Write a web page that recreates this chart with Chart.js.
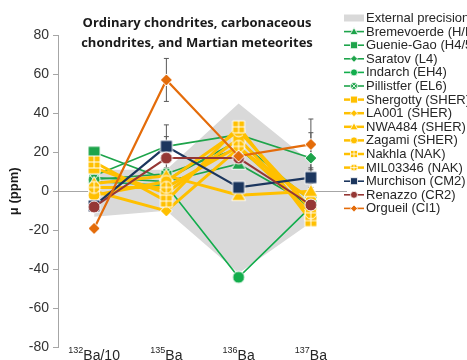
<!DOCTYPE html>
<html>
<head>
<meta charset="utf-8">
<script src="https://cdn.jsdelivr.net/npm/chart.js@4.4.1/dist/chart.umd.min.js"></script>
<style>
  html, body { margin: 0; padding: 0; background: #fff; overflow: hidden; }
  #wrap { width: 467px; height: 360px; }
</style>
</head>
<body>
<div id="wrap"><canvas id="chart" width="467" height="360"></canvas></div>
<script>
// Categories (isotope ratios) and how their labels are split for the superscript
const categories = ['132Ba/10', '135Ba', '136Ba', '137Ba'];
const massNumbers = ['132', '135', '136', '137'];
const labelSuffixes = ['Ba/10', 'Ba', 'Ba', 'Ba'];

// Grey band: external precision
const precisionUpper = [11, 11, 45, 15];
const precisionLower = [-13, -10, -42, -16];

// Ordinary and enstatite chondrites
const bremevoerde = [7, 5, 14, -7];
const guenieGao = [20, 6, 26, -5];
const saratov = [8, 23, 29, 17];
const indarch = [5, 3, -44, -8];
const pillistfer = [6, 9, 22, -9];
// Martian meteorites
const shergotty = [12, -1, 27, -12];
const la001 = [0, -10, 22, -4];
const nwa484 = [4, 8, -2, 0];
const zagami = [-2, 5, 31, -9];
const nakhla = [15, -5, 33, -15];
const mil03346 = [2, 2, 23, -11];
// Carbonaceous chondrites
const murchison = [-7.5, 23, 2, 7];
const renazzo = [-8, 17, 17, -7];
const orgueil = [-19, 57, 18, 24];

// Error bars (+/-) that show in the figure
const orgueilError = [null, 11, null, 13];
const murchisonError = [null, 11, null, 5];
const renazzoError = [null, 11, null, null];
const saratovError = [null, null, null, 13];

const GREEN = '#1ea44b';
const YELLOW = '#ffc000';

// label, values, colour, marker, line width
const series = [
  ['Bremevoerde (H/L3.9)', bremevoerde, GREEN, 'triangle', 1.6],
  ['Guenie-Gao (H4/5)', guenieGao, GREEN, 'rect', 1.6],
  ['Saratov (L4)', saratov, GREEN, 'rectRot', 1.6],
  ['Indarch (EH4)', indarch, '#12ad4c', 'circle', 1.6],
  ['Pillistfer (EL6)', pillistfer, GREEN, 'circleX', 1.6],
  ['Shergotty (SHER)', shergotty, YELLOW, 'rect', 3],
  ['LA001 (SHER)', la001, YELLOW, 'rectRot', 3],
  ['NWA484 (SHER)', nwa484, YELLOW, 'triangle', 3],
  ['Zagami (SHER)', zagami, YELLOW, 'circle', 3],
  ['Nakhla (NAK)', nakhla, YELLOW, 'rectPlus', 3],
  ['MIL03346 (NAK)', mil03346, YELLOW, 'circlePlus', 3],
  ['Murchison (CM2)', murchison, '#1c365e', 'rect', 2.2],
  ['Renazzo (CR2)', renazzo, '#953735', 'circle', 2],
  ['Orgueil (CI1)', orgueil, '#e46c0a', 'rectRot', 2.2],
];

const errorBars = [
  [saratov, saratovError],
  [murchison, murchisonError],
  [renazzo, renazzoError],
  [orgueil, orgueilError],
];

// Draw one marker shape, used for chart points and legend
function drawMarker(ctx, style, x, y, r, color, lw) {
  ctx.save();
  ctx.fillStyle = color;
  ctx.strokeStyle = '#ffffff';
  ctx.lineWidth = lw;
  ctx.beginPath();
  if (style === 'circle' || style === 'circleX' || style === 'circlePlus') {
    ctx.arc(x, y, r, 0, Math.PI * 2);
  } else if (style === 'rect' || style === 'rectPlus') {
    ctx.rect(x - r, y - r, 2 * r, 2 * r);
  } else if (style === 'rectRot') {
    ctx.moveTo(x, y - r);
    ctx.lineTo(x + r, y);
    ctx.lineTo(x, y + r);
    ctx.lineTo(x - r, y);
    ctx.closePath();
  } else if (style === 'triangle') {
    ctx.moveTo(x, y - r);
    ctx.lineTo(x + r, y + r * 0.75);
    ctx.lineTo(x - r, y + r * 0.75);
    ctx.closePath();
  }
  ctx.fill();
  ctx.stroke();
  // inner crosses
  if (style === 'rectPlus' || style === 'circlePlus') {
    ctx.beginPath();
    ctx.moveTo(x - r, y); ctx.lineTo(x + r, y);
    ctx.moveTo(x, y - r); ctx.lineTo(x, y + r);
    ctx.stroke();
  } else if (style === 'circleX') {
    const d = r * 0.7;
    ctx.beginPath();
    ctx.moveTo(x - d, y - d); ctx.lineTo(x + d, y + d);
    ctx.moveTo(x + d, y - d); ctx.lineTo(x - d, y + d);
    ctx.stroke();
  }
  ctx.restore();
}

function makeMarker(style, color) {
  const r = style === 'triangle' ? 7 : 6;
  const c = document.createElement('canvas');
  const s = 2 * r + 4;
  c.width = s;
  c.height = s;
  drawMarker(c.getContext('2d'), style, s / 2, s / 2, r, color, 1);
  return c;
}

const datasets = [
  {
    label: 'External precision',
    data: precisionUpper,
    fill: '+1',
    backgroundColor: '#d9d9d9',
    borderWidth: 0,
    pointRadius: 0,
    order: 100,
  },
  {
    label: '',
    data: precisionLower,
    fill: false,
    borderWidth: 0,
    pointRadius: 0,
    order: 101,
  },
];

series.forEach((s, i) => {
  datasets.push({
    label: s[0],
    data: s[1],
    borderColor: s[2],
    backgroundColor: s[2],
    borderWidth: s[4],
    pointStyle: makeMarker(s[3], s[2]),
    pointRadius: 6,
    tension: 0,
    fill: false,
    order: series.length - i,
  });
});

// Error bars go right above the grey band, under the series
const errorBarPlugin = {
  id: 'errorBars',
  afterDatasetDraw(chart, args) {
    if (args.index !== 0) return;
    const ctx = chart.ctx;
    const x = chart.scales.x;
    const y = chart.scales.y;
    ctx.save();
    ctx.strokeStyle = '#595959';
    ctx.lineWidth = 1;
    errorBars.forEach(([vals, errs]) => {
      errs.forEach((e, i) => {
        if (e == null) return;
        const px = x.getPixelForValue(i);
        const top = y.getPixelForValue(vals[i] + e);
        const bot = y.getPixelForValue(vals[i] - e);
        ctx.beginPath();
        ctx.moveTo(px, top); ctx.lineTo(px, bot);
        ctx.moveTo(px - 2.5, top); ctx.lineTo(px + 2.5, top);
        ctx.moveTo(px - 2.5, bot); ctx.lineTo(px + 2.5, bot);
        ctx.stroke();
      });
    });
    ctx.restore();
  },
};

// Title, category labels and legend drawn on top
const decorPlugin = {
  id: 'decor',
  afterDraw(chart) {
    const ctx = chart.ctx;
    const x = chart.scales.x;
    ctx.save();

    // title
    ctx.fillStyle = '#1a1a1a';
    ctx.font = 'bold 13px "Open Sans"';
    ctx.textAlign = 'center';
    ctx.textBaseline = 'middle';
    ctx.fillText('Ordinary chondrites, carbonaceous', 197, 23);
    ctx.fillText('chondrites, and Martian meteorites', 197, 43);

    // category labels with superscript mass numbers
    ctx.textAlign = 'left';
    ctx.textBaseline = 'alphabetic';
    ctx.fillStyle = '#262626';
    categories.forEach((c, i) => {
      ctx.font = '9px Arial';
      const wSup = ctx.measureText(massNumbers[i]).width;
      ctx.font = '14px Arial';
      const wMain = ctx.measureText(labelSuffixes[i]).width;
      const left = x.getPixelForValue(i) - (wSup + wMain) / 2;
      ctx.font = '9px Arial';
      ctx.fillText(massNumbers[i], left, 353);
      ctx.font = '14px Arial';
      ctx.fillText(labelSuffixes[i], left + wSup, 360);
    });

    // legend
    const lx = 344, tx = 366, ly = 18, step = 13.6;
    ctx.font = '13px Arial';
    ctx.textBaseline = 'middle';
    ctx.fillStyle = '#d9d9d9';
    ctx.fillRect(lx, ly - 3.5, 20, 7);
    ctx.fillStyle = '#262626';
    ctx.fillText('External precision', tx, ly + 0.5);
    series.forEach((s, i) => {
      const yy = ly + step * (i + 1);
      ctx.strokeStyle = s[2];
      ctx.lineWidth = s[4] > 2.5 ? 2.5 : 1.6;
      ctx.beginPath();
      ctx.moveTo(lx, yy); ctx.lineTo(lx + 20, yy);
      ctx.stroke();
      drawMarker(ctx, s[3], lx + 10, yy, s[3] === 'triangle' ? 4 : 3.5, s[2], 0.8);
      ctx.fillStyle = '#262626';
      ctx.fillText(s[0], tx, yy + 0.5);
    });
    ctx.restore();
  },
};

new Chart(document.getElementById('chart'), {
  type: 'line',
  data: { labels: categories, datasets: datasets },
  options: {
    responsive: false,
    animation: false,
    devicePixelRatio: 1,
    layout: { padding: { top: 35, right: 120, bottom: 5, left: 0 } },
    plugins: {
      legend: { display: false },
      tooltip: { enabled: false },
      title: { display: false },
    },
    scales: {
      x: { type: 'category', offset: true, display: false },
      y: {
        min: -80,
        max: 80,
        ticks: { stepSize: 20, color: '#333', font: { family: 'Arial', size: 14 }, padding: 4 },
        grid: {
          color: (c) => (c.tick && c.tick.value === 0 ? '#a6a6a6' : 'rgba(0,0,0,0)'),
          tickColor: '#a6a6a6',
          tickLength: 5,
        },
        border: { color: '#a6a6a6' },
        title: {
          display: true,
          text: 'μ (ppm)',
          color: '#1a1a1a',
          font: { family: 'Arial', size: 13, weight: 'bold' },
          padding: { top: 7, bottom: 0 },
        },
        afterFit: (scale) => { scale.width = 58; },
      },
    },
  },
  plugins: [errorBarPlugin, decorPlugin],
});
</script>
</body>
</html>
